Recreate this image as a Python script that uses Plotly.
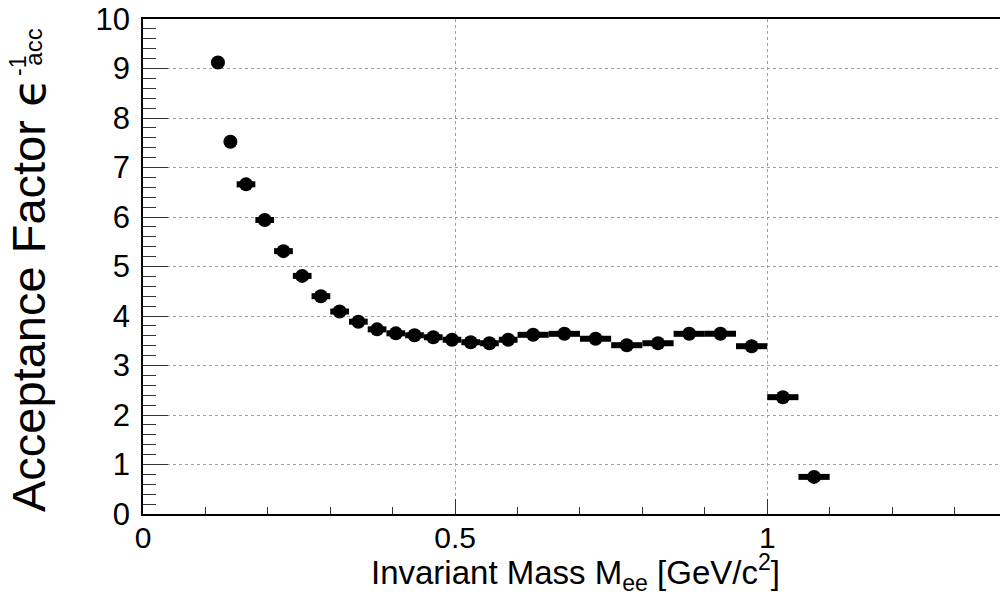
import plotly.graph_objects as go

# Bin edges (GeV/c^2) and acceptance factor values
bin_lo = [0.11, 0.13, 0.15, 0.18, 0.21, 0.24, 0.27, 0.30, 0.33, 0.36, 0.39, 0.42,
          0.45, 0.48, 0.51, 0.54, 0.57, 0.60, 0.65, 0.70, 0.75, 0.80, 0.85, 0.90,
          0.95, 1.00, 1.05]
bin_hi = [0.13, 0.15, 0.18, 0.21, 0.24, 0.27, 0.30, 0.33, 0.36, 0.39, 0.42, 0.45,
          0.48, 0.51, 0.54, 0.57, 0.60, 0.65, 0.70, 0.75, 0.80, 0.85, 0.90, 0.95,
          1.00, 1.05, 1.10]
acc_factor = [9.12, 7.52, 6.66, 5.94, 5.31, 4.81, 4.40, 4.09, 3.885, 3.73, 3.65, 3.61,
              3.57, 3.52, 3.47, 3.45, 3.52, 3.62, 3.64, 3.54, 3.41, 3.45, 3.64, 3.64,
              3.39, 2.36, 0.75]

x_ticks = [0, 0.5, 1]
x_tick_text = ["0", "0.5", "1"]
y_ticks = list(range(0, 11))
y_tick_text = [str(v) for v in y_ticks]

centers = [(a + b) / 2 for a, b in zip(bin_lo, bin_hi)]
half_w = [(b - a) / 2 for a, b in zip(bin_lo, bin_hi)]

FONT = "Liberation Sans, Arial, Helvetica, sans-serif"

fig = go.Figure()
fig.add_trace(go.Scatter(
    x=centers, y=acc_factor, mode="markers",
    marker=dict(symbol="circle", size=14, color="black"),
    error_x=dict(type="data", array=half_w, visible=True, thickness=6, width=0, color="black"),
    showlegend=False,
))

# page body has an 8px margin: figure is 1000x589 so that it ends at the window edge
fig.update_layout(
    width=1000, height=589,
    margin=dict(l=135, r=0, t=11, b=83),
    paper_bgcolor="white", plot_bgcolor="white",
    font=dict(family=FONT, color="black"),
)

fig.update_xaxes(
    range=[0, 1.3857], tickvals=x_ticks, ticktext=x_tick_text, automargin=False,
    ticks="inside", ticklen=15, tickwidth=1, tickcolor="#333",
    minor=dict(dtick=0.1, ticks="inside", ticklen=7, tickcolor="#333", showgrid=False),
    showgrid=True, gridcolor="#a0a0a0", griddash="dot", gridwidth=1,
    showline=True, linecolor="black", linewidth=1.5, mirror=True,
    zeroline=False, tickfont=dict(size=30, family=FONT), ticklabelstandoff=-4,
    ticklabeloverflow="allow",
)
fig.update_yaxes(
    range=[0, 10], tickvals=y_ticks, ticktext=y_tick_text, automargin=False,
    ticks="inside", ticklen=25, tickwidth=1, tickcolor="#333",
    minor=dict(dtick=0.2, ticks="inside", ticklen=13, tickcolor="#333", showgrid=False),
    showgrid=True, gridcolor="#a0a0a0", griddash="dot", gridwidth=1,
    showline=True, linecolor="black", linewidth=1.5, mirror=True,
    zeroline=False, tickfont=dict(size=31, family=FONT), ticklabelstandoff=5,
    ticklabeloverflow="allow",
)

# x-axis title
fig.add_annotation(
    text="Invariant Mass M<sub>ee</sub> [GeV/c<sup>2</sup>]",
    xref="paper", yref="paper", x=0.5, y=-0.119, xanchor="center", yanchor="middle",
    showarrow=False, font=dict(size=33, family=FONT, color="black"),
)
# y-axis title (main part)
fig.add_annotation(
    text="Acceptance Factor <span style='font-family:DejaVu Sans'>\u03f5</span>",
    xref="paper", yref="paper", x=-0.1324, y=0.4434, xanchor="center", yanchor="middle",
    textangle=-90, showarrow=False, font=dict(size=47, family=FONT, color="black"),
)
# stacked superscript / subscript
fig.add_annotation(
    text="-1", xref="paper", yref="paper", x=-0.1445, y=0.905, xanchor="center", yanchor="middle",
    textangle=-90, showarrow=False, font=dict(size=23, family=FONT, color="black"),
)
fig.add_annotation(
    text="acc", xref="paper", yref="paper", x=-0.1276, y=0.9434, xanchor="center", yanchor="middle",
    textangle=-90, showarrow=False, font=dict(size=24, family=FONT, color="black"),
)

fig.write_html("out.html")
